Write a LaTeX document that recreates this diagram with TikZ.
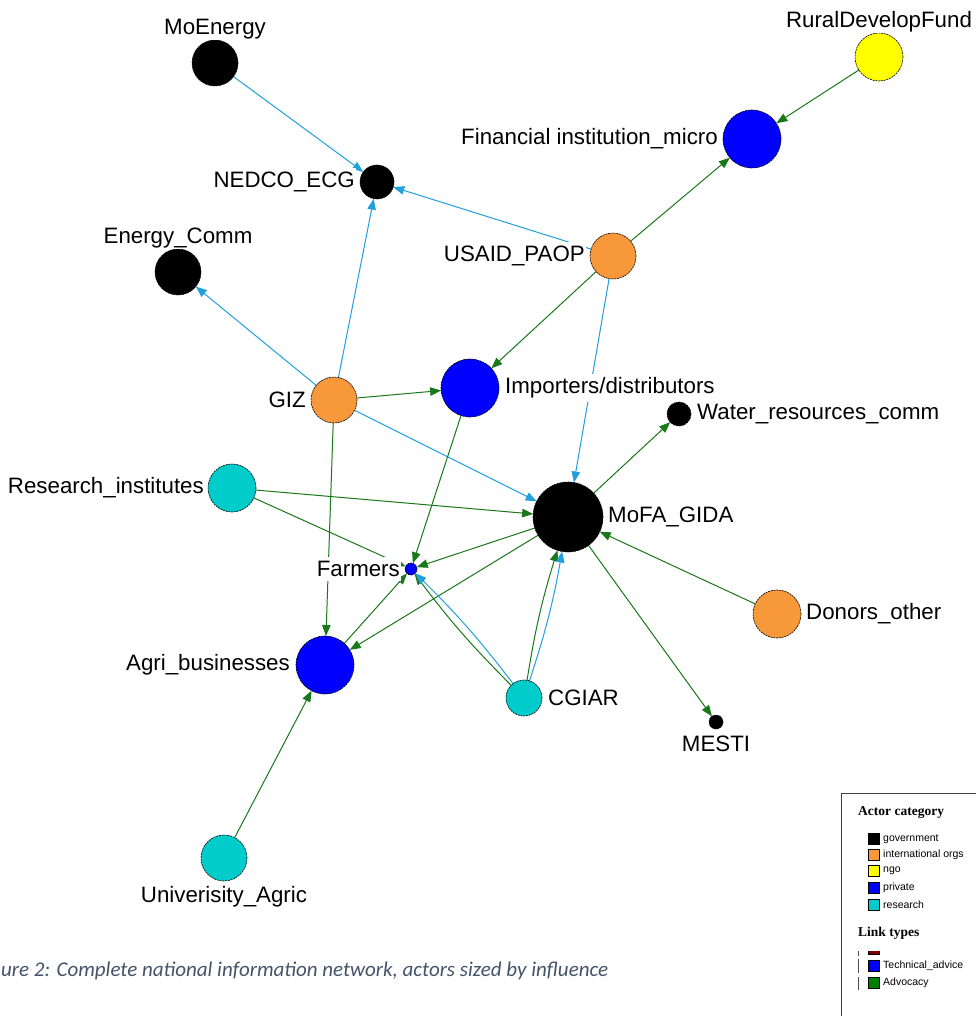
\documentclass[tikz,border=0pt]{standalone}
\usepackage{fontspec}
\setmainfont{Liberation Sans}
\newfontfamily\capfont{Carlito}
\newfontfamily\legserif{Liberation Serif}
\usetikzlibrary{arrows.meta,backgrounds}
\definecolor{techblue}{RGB}{32,160,220}
\definecolor{advgreen}{RGB}{25,120,25}
\definecolor{orgorange}{RGB}{247,153,58}
\definecolor{rescyan}{RGB}{0,204,204}
\definecolor{privblue}{RGB}{0,0,255}
\definecolor{ngoyellow}{RGB}{255,255,0}
\definecolor{capgray}{RGB}{68,84,106}
\definecolor{fundred}{RGB}{128,0,0}
\definecolor{legadv}{RGB}{0,128,0}
\begin{document}
\begin{tikzpicture}[x=1pt,y=-1pt,
 actor/.style={circle, inner sep=0pt, outer sep=0pt, draw=black, line width=0.6pt, dash pattern=on 2pt off 0.8pt},
 lbl/.style={fill=white, inner xsep=1pt, inner ysep=4pt, text=black, font=\fontsize{22.3}{25}\selectfont},
 lblv/.style={lbl, inner ysep=1pt},
 tech/.style={draw=techblue, line width=1pt, -{Triangle[length=11pt,width=8.5pt]}},
 adv/.style={draw=advgreen, line width=1pt, -{Triangle[length=11pt,width=8.5pt]}},
 legsq/.style={rectangle, inner sep=0pt, minimum size=11pt, draw=black, line width=0.6pt},
 legtxt/.style={anchor=west, inner sep=0pt, font=\fontsize{10.5}{12}\selectfont},
 leghead/.style={anchor=west, inner sep=0pt, font=\legserif\bfseries\fontsize{13.5}{16}\selectfont},
]
\useasboundingbox (0,0) rectangle (975,1016);

% actors
\node[actor, fill=black, minimum size=46pt, label={[lblv, label distance=0pt]above:MoEnergy}] (moe) at (215,63) {};
\node[actor, fill=ngoyellow, minimum size=48pt, label={[lblv, label distance=0pt]above:RuralDevelopFund}] (rdf) at (879,57) {};
\node[actor, fill=privblue, minimum size=58pt, label={[lbl, label distance=4pt]left:Financial institution\_micro}] (fin) at (752,139) {};
\node[actor, fill=black, minimum size=34pt, label={[lbl, label distance=4pt]left:NEDCO\_ECG}] (ned) at (377,182) {};
\node[actor, fill=black, minimum size=46pt, label={[lblv, label distance=0pt]above:Energy\_Comm}] (enc) at (178,272) {};
\node[actor, fill=orgorange, minimum size=46pt, label={[lbl, label distance=4pt]left:USAID\_PAOP}] (usa) at (613,256) {};
\node[actor, fill=orgorange, minimum size=46pt, label={[lbl, label distance=4pt]left:GIZ}] (giz) at (334,400) {};
\node[actor, fill=privblue, minimum size=58pt, label={[lbl, label distance=5pt]right:Importers/distributors}] (imp) at (470,388) {};
\node[actor, fill=black, minimum size=24pt, label={[lbl, label distance=5pt]right:Water\_resources\_comm}] (wat) at (679,414) {};
\node[actor, fill=rescyan, minimum size=48pt, label={[lbl, label distance=3pt]left:Research\_institutes}] (res) at (232,488) {};
\node[actor, fill=black, minimum size=70pt, label={[lbl, label distance=4pt]right:MoFA\_GIDA}] (mof) at (568,517) {};
\node[actor, fill=privblue, minimum size=12pt, label={[lbl, label distance=4pt]left:Farmers}] (far) at (411,569) {};
\node[actor, fill=orgorange, minimum size=48pt, label={[lbl, label distance=4pt]right:Donors\_other}] (don) at (777,614) {};
\node[actor, fill=privblue, minimum size=58pt, label={[lbl, label distance=5pt]left:Agri\_businesses}] (agr) at (325,665) {};
\node[actor, fill=rescyan, minimum size=36pt, label={[lbl, label distance=5pt]right:CGIAR}] (cgi) at (524,698) {};
\node[actor, fill=black, minimum size=14pt, label={[lblv, label distance=6pt]below:MESTI}] (mes) at (716,722) {};
\node[actor, fill=rescyan, minimum size=46pt, label={[lblv, label distance=4pt]below:Univerisity\_Agric}] (uni) at (224,858) {};

% links
\begin{scope}[on background layer]
\fill[white] (0,0) rectangle (975,1016);
\draw[tech] (moe) -- (ned);
\draw[adv] (rdf) -- (fin);
\draw[tech] (usa) -- (ned);
\draw[adv] (usa) -- (fin);
\draw[adv] (usa) -- (imp);
\draw[tech] (usa) -- (mof);
\draw[tech] (giz) -- (enc);
\draw[tech] (giz) -- (ned);
\draw[adv] (giz) -- (imp);
\draw[tech] (giz) -- (mof);
\draw[adv] (giz) -- (agr);
\draw[adv] (imp) -- (far);
\draw[adv] (mof) -- (wat);
\draw[adv] (res) -- (mof);
\draw[adv] (res) -- (far);
\draw[adv] (mof) -- (far);
\draw[adv] (mof) -- (agr);
\draw[adv] (agr) -- (far);
\draw[adv] (cgi) to[bend left=4] (far);
\draw[tech] (cgi) to[bend right=4] (far);
\draw[adv] (cgi) to[bend left=4] (mof);
\draw[tech] (cgi) to[bend right=4] (mof);
\draw[adv] (don) -- (mof);
\draw[adv] (mof) -- (mes);
\draw[adv] (uni) -- (agr);
\end{scope}

% caption
\node[anchor=west, inner sep=0pt, text=capgray, font=\capfont\itshape\fontsize{21}{24}\selectfont] (cap) at (1,971) {ure 2: Complete national information network, actors sized by influence};

% legend
\draw[black!75, line width=0.7pt] (841,1030) -- (841,793) -- (990,793);
\node[leghead] (lgh1) at (858,813) {Actor category};
\node[legsq, fill=black] (s1) at (874,839) {};
\node[legtxt] (t1) at (883,839) {government};
\node[legsq, fill=orgorange] (s2) at (874,855) {};
\node[legtxt] (t2) at (883,855) {international orgs};
\node[legsq, fill=ngoyellow] (s3) at (874,871) {};
\node[legtxt] (t3) at (883,871) {ngo};
\node[legsq, fill=privblue] (s4) at (874,888) {};
\node[legtxt] (t4) at (883,888) {private};
\node[legsq, fill=rescyan] (s5) at (874,905) {};
\node[legtxt] (t5) at (883,905) {research};
\node[leghead] (lgh2) at (858,933) {Link types};
\begin{scope}
\clip (850,951.5) rectangle (975,956);
\node[legsq, fill=fundred] (s6) at (874,949) {};
\draw[black!70, line width=0.8pt] (858,945) -- (858,956);
\end{scope}
\node[legsq, fill=privblue] (s7) at (874,966) {};
\node[legtxt] (t7) at (883,966) {Technical\_advice};
\node[legsq, fill=legadv] (s8) at (874,983) {};
\node[legtxt] (t8) at (883,983) {Advocacy};
\draw[black!70, line width=0.8pt] (858,959) -- (858,973);
\draw[black!70, line width=0.8pt] (858,977) -- (858,990);
\end{tikzpicture}
\end{document}
